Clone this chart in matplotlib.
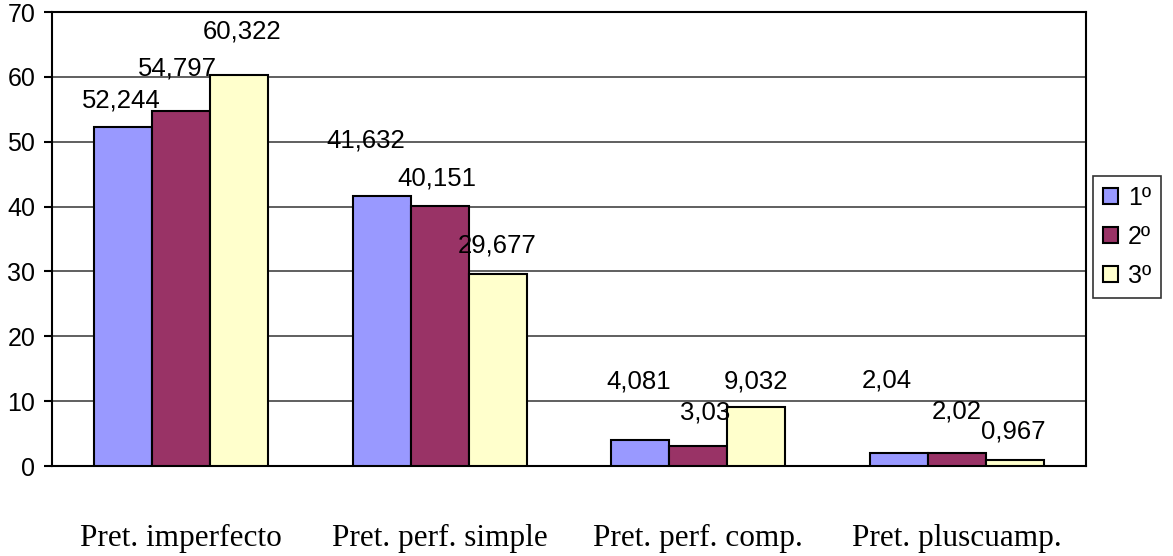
import numpy as np
import matplotlib.pyplot as plt

categories = ["Pret. imperfecto", "Pret. perf. simple", "Pret. perf. comp.", "Pret. pluscuamp."]
series_names = ["1º", "2º", "3º"]
v1 = [52.244, 41.632, 4.081, 2.04]
v2 = [54.797, 40.151, 3.03, 2.02]
v3 = [60.322, 29.677, 9.032, 0.967]
labels1 = ["52,244", "41,632", "4,081", "2,04"]
labels2 = ["54,797", "40,151", "3,03", "2,02"]
labels3 = ["60,322", "29,677", "9,032", "0,967"]

colors = ["#9999FF", "#993366", "#FFFFCC"]
# label offsets in pixels (dx, dy) as Excel placed them
offs = [
    [(-2, 27), (-16, 55), (-2, 58), (-12, 72)],
    [(-4, 42), (-3, 27), (7, 34), (0, 41)],
    [(3, 43), (-1, 28), (0, 26), (-1, 28)],
]

fig = plt.figure(figsize=(11.73, 5.56), dpi=100)
ax = fig.add_axes([52 / 1173, 1 - 466 / 556, (1086 - 52) / 1173, (466 - 12) / 556])

x = np.arange(len(categories))
w = 0.224
series = [v1, v2, v3]
labs = [labels1, labels2, labels3]
for i, vals in enumerate(series):
    ax.bar(x + (i - 1) * w, vals, w, color=colors[i], edgecolor="black",
           linewidth=1.5, zorder=3, label=series_names[i])
    for j, v in enumerate(vals):
        dx, dy = offs[i][j]
        ax.annotate(labs[i][j], (x[j] + (i - 1) * w, v), xytext=(dx * 0.72, dy * 0.72),
                    textcoords="offset points", ha="center", va="center",
                    fontsize=18.5, family="Liberation Sans", zorder=4)

ax.set_xlim(-0.5, 3.5)
ax.set_ylim(0, 70)
ax.set_yticks(range(0, 71, 10))
ax.yaxis.grid(True, color="#444444", linewidth=1.2, zorder=0)
for s in ax.spines.values():
    s.set_linewidth(1.5)
    s.set_color("black")
ax.tick_params(axis="y", length=6, width=1.5, labelsize=18, pad=6)
for t in ax.get_yticklabels():
    t.set_family("Liberation Sans")
ax.set_xticks(x)
ax.set_xticklabels(categories, family="Liberation Serif", fontsize=22.5)
ax.tick_params(axis="x", length=0, pad=42)

leg = ax.legend(loc="center left", prop={"family": "Liberation Sans", "size": 18},
                handlelength=0.6, handleheight=0.6, handletextpad=0.4, labelspacing=0.6,
                borderpad=0.4, fancybox=False, frameon=True, borderaxespad=0)
leg.get_frame().set_edgecolor("black")
leg.get_frame().set_linewidth(1.2)
leg.set_bbox_to_anchor((1093 / 1173, 1 - 237 / 556), transform=fig.transFigure)

fig.savefig("out.png", dpi=100)
